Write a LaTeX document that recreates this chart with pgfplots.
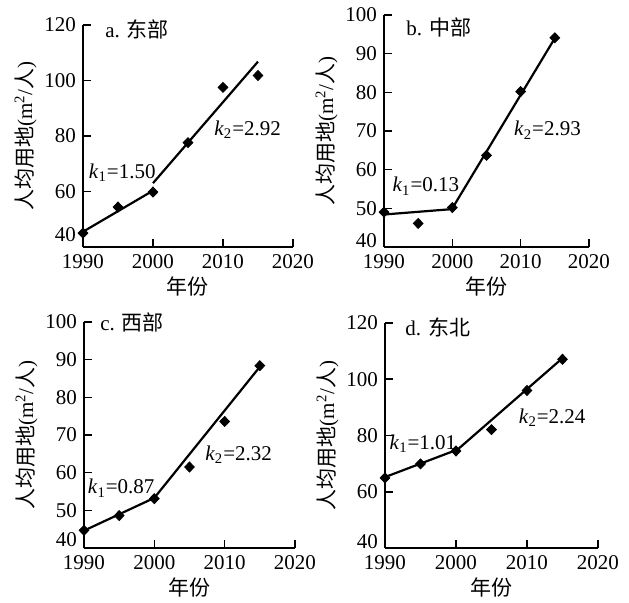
\documentclass[border=0pt]{standalone}
\usepackage{fontspec}
\setmainfont{Liberation Serif}
\newfontfamily\cjk{Noto Sans CJK SC}
\usepackage{pgfplots}
\pgfplotsset{compat=1.18}
\pgfplotsset{
  panel/.style={
    scale only axis,
    axis lines=left,
    axis line style={-, line width=1pt},
    xmin=1990, xmax=2020, xtick={1990,2000,2010,2020},
    tick align=inside,
    tick style={black, line width=0.8pt},
    major tick length=4pt,
    ticklabel style={font=\fontsize{10.5}{12}\selectfont},
    /pgf/number format/assume math mode=true,
    /pgf/number format/1000 sep={},
    xlabel={\cjk 年份},
    ylabel={{\cjk 人均用地}(m\textsuperscript{2}/{\cjk 人})},
    label style={font=\fontsize{10.5}{12}\selectfont},
    xlabel shift=-2.5pt,
    ylabel shift=-3pt,
    clip=false,
  },
  pts/.style={only marks, mark=diamond*, mark size=2.5pt, black, mark options={xscale=1.3}},
  seg/.style={no marks, black, line width=1.1pt},
}
\tikzset{
  klab/.style={anchor=west, font=\fontsize{10.5}{12}\selectfont, inner sep=0pt},
  ttl/.style={anchor=west, font=\fontsize{10.5}{12}\selectfont, inner sep=0pt},
}
\begin{document}
\begin{tikzpicture}
\useasboundingbox (0,0) rectangle (314.5pt,-301.5pt);
% a
\begin{axis}[panel, at={(41.5pt,-123.5pt)}, anchor=south west, width=105pt, height=111pt,
  ymin=40, ymax=120, ytick={60,80,100,120}, extra y ticks={40},
  extra y tick style={yticklabel style={yshift=6pt}}]
\addplot[pts] coordinates {(1990,45.0) (1995,54.4) (2000,59.8) (2005,77.6) (2010,97.5) (2015,101.8)};
\addplot[seg] coordinates {(1990,45.5) (2000,60.3)};
\addplot[seg] coordinates {(2000,63.0) (2015,106.8)};
\node[ttl] at (rel axis cs:0,1) [xshift=11pt, yshift=-2pt] {a. {\cjk 东部}};
\node[klab] at (axis cs:1990.8,66.7) {\textit{k}\textsubscript{1}=1.50};
\node[klab] at (axis cs:2008.7,82.2) {\textit{k}\textsubscript{2}=2.92};
\end{axis}
% b
\begin{axis}[panel, at={(192pt,-123.5pt)}, anchor=south west, width=102.5pt, height=116pt,
  ymin=40, ymax=100, ytick={50,60,70,80,90,100}, extra y ticks={40},
  extra y tick style={yticklabel style={yshift=3.3pt}}]
\addplot[pts] coordinates {(1990,49.0) (1995,46.1) (2000,50.2) (2005,63.7) (2010,80.2) (2015,94.1)};
\addplot[seg] coordinates {(1990,48.4) (2000,49.8)};
\addplot[seg] coordinates {(2000,50.0) (2015,94.0)};
\node[ttl] at (rel axis cs:0,1) [xshift=11pt, yshift=-6pt] {b. {\cjk 中部}};
\node[klab] at (axis cs:1991.2,55.7) {\textit{k}\textsubscript{1}=0.13};
\node[klab] at (axis cs:2009.0,70.2) {\textit{k}\textsubscript{2}=2.93};
\end{axis}
% c
\begin{axis}[panel, at={(42pt,-274pt)}, anchor=south west, width=105.5pt, height=113pt,
  ymin=40, ymax=100, ytick={50,60,70,80,90,100}, extra y ticks={40},
  extra y tick style={yticklabel style={yshift=4pt}}]
\addplot[pts] coordinates {(1990,44.7) (1995,48.6) (2000,53.1) (2005,61.5) (2010,73.6) (2015,88.4)};
\addplot[seg] coordinates {(1990,44.6) (2000,53.3)};
\addplot[seg] coordinates {(2000,53.3) (2015,88.1)};
\node[ttl] at (rel axis cs:0,1) [xshift=8pt, yshift=0pt] {c. {\cjk 西部}};
\node[klab] at (axis cs:1990.5,55.9) {\textit{k}\textsubscript{1}=0.87};
\node[klab] at (axis cs:2007.2,64.8) {\textit{k}\textsubscript{2}=2.32};
\end{axis}
% d
\begin{axis}[panel, at={(192.5pt,-274pt)}, anchor=south west, width=106.5pt, height=112.5pt,
  ymin=40, ymax=120, ytick={60,80,100,120}, extra y ticks={40},
  extra y tick style={yticklabel style={yshift=3pt}}]
\addplot[pts] coordinates {(1990,64.9) (1995,69.9) (2000,74.5) (2005,82.1) (2010,96.0) (2015,107.1)};
\addplot[seg] coordinates {(1990,65.2) (2000,74.8)};
\addplot[seg] coordinates {(2000,74.5) (2015,107.5)};
\node[ttl] at (rel axis cs:0,1) [xshift=10pt, yshift=-2pt] {d. {\cjk 东北}};
\node[klab] at (axis cs:1990.6,77.1) {\textit{k}\textsubscript{1}=1.01};
\node[klab] at (axis cs:2008.8,86.4) {\textit{k}\textsubscript{2}=2.24};
\end{axis}
\end{tikzpicture}
\end{document}
